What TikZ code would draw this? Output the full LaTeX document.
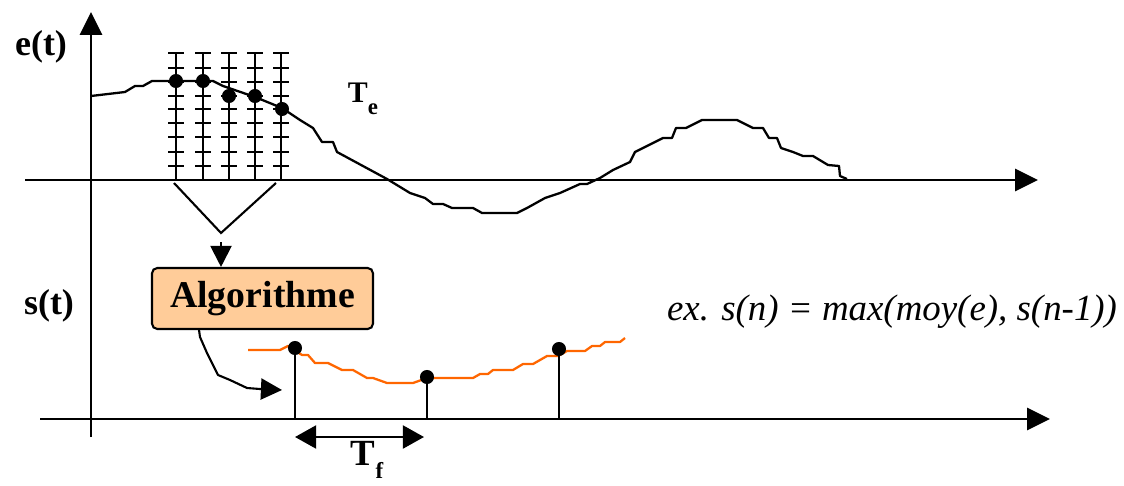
\documentclass[tikz,border=0pt]{standalone}
\usepackage{fontspec}
\setmainfont{Liberation Serif}
\usetikzlibrary{arrows.meta,positioning}
\definecolor{peach}{RGB}{255,204,153}
\definecolor{sigorange}{RGB}{255,102,0}

\begin{document}
\begin{tikzpicture}[
    x=0.02cm, y=-0.02cm,
    axis/.style={line width=1.5pt, -{Triangle[length=13pt,width=12.5pt]}},
    curve/.style={line width=1.3pt, line join=round},
    sample/.style={circle, fill=black, inner sep=0pt, minimum size=8pt},
    algobox/.style={rectangle, rounded corners=3pt, draw=black, line width=1.2pt, fill=peach, minimum width=4.42cm, minimum height=1.22cm, font=\fontsize{21.5}{24}\selectfont\bfseries},
    axlabel/.style={font=\fontsize{20.5}{24}\selectfont\bfseries, inner sep=0pt}
]
    \useasboundingbox (0,0) rectangle (1124,486);

    % Axes
    \coordinate (o1) at (91,437);
    \coordinate (y1) at (91,12);
    \coordinate (e0) at (25,180);
    \coordinate (e1) at (1038,180);
    \coordinate (s0) at (40,419);
    \coordinate (s1) at (1050,419);
    \draw[axis] (o1) -- (y1);
    \draw[axis] (e0) -- (e1);
    \draw[axis] (s0) -- (s1);

    % Labels
    \node[axlabel] (et) at (41,47) {e(t)};
    \node[axlabel] (st) at (49,306) {s(t)};
    \node[axlabel, font=\fontsize{17}{20}\selectfont\bfseries] (te) at (363,99) {T\raisebox{-0.4em}{\fontsize{13}{14}\selectfont e}};
    \node[axlabel, font=\fontsize{21}{24}\selectfont\bfseries] (tf) at (367,460) {T\raisebox{-0.33em}{\fontsize{13}{14}\selectfont f}};
    \node[font=\fontsize{21}{24}\selectfont\itshape, inner sep=0pt] (ex) at (892,312) {ex. s(n) = max(moy(e), s(n-1))};

    % Input signal e(t)
    \draw[curve] (91,96) -- (125,92) -- (135,86) -- (143,86) -- (152,81) -- (213,81) -- (223,86)
        -- (255,97) -- (282,108) -- (300,120) -- (313,128) -- (322,142) -- (333,142) -- (337,152)
        -- (387,179) -- (410,193) -- (425,198) -- (433,204) -- (443,204) -- (452,208) -- (473,208)
        -- (482,213) -- (517,213) -- (527,208) -- (545,198) -- (560,193) -- (580,184) -- (587,184)
        -- (600,178) -- (613,170) -- (630,162) -- (635,152) -- (643,148) -- (655,142) -- (663,138)
        -- (672,138) -- (676,128) -- (686,128) -- (702,120) -- (737,120) -- (753,128) -- (763,128)
        -- (769,138) -- (777,138) -- (781,148) -- (793,152) -- (803,156) -- (813,156) -- (828,165)
        -- (839,166) -- (840,176) -- (847,179);

    % Sampling grid
    \foreach \x in {176,203,229,255,281} {
        \draw[line width=1.3pt] (\x,53) -- (\x,180);
        \foreach \y in {53,68,82,96,109,123,137,152,166}
            \draw[line width=1.3pt] (\x-8,\y) -- (\x+8,\y);
    }

    % Samples
    \node[sample] (p1) at (176,81) {};
    \node[sample] (p2) at (203,81) {};
    \node[sample] (p3) at (229,96) {};
    \node[sample] (p4) at (255,96) {};
    \node[sample] (p5) at (282,109) {};

    % Algorithm block
    \node[algobox] (algo) at (262.5,298.5) {Algorithme};
    \coordinate (va) at (174,183);
    \coordinate (vb) at (276,183);
    \coordinate (vc) at (221,233);
    \coordinate (vd) at (221,242);
    \draw[line width=1.2pt] (va) -- (vc) -- (vb);
    \draw[line width=1.2pt, -{Triangle[length=12pt,width=12pt]}] (vd) -- (algo.north -| vd);
    \coordinate (out) at (282,390);
    \draw[line width=1.2pt, line join=round, -{Triangle[length=12pt,width=12pt]}]
        ([xshift=-1.27cm]algo.south) -- (200,337) -- (207,353) -- (218,375) -- (230,380)
        -- (247,388) -- (260,389) -- (out);

    % Output signal s(t)
    \draw[curve, sigorange] (248,350) -- (280,350) -- (288,346) -- (302,355) -- (308,355) -- (315,363)
        -- (328,363) -- (342,370) -- (353,370) -- (367,378) -- (373,378) -- (387,383) -- (413,383)
        -- (427,378) -- (473,378) -- (480,374) -- (488,374) -- (493,370) -- (513,370) -- (523,364)
        -- (533,364) -- (547,356) -- (558,356) -- (567,351) -- (585,351) -- (592,346) -- (600,346)
        -- (605,342) -- (620,342) -- (625,338);
    \node[sample] (q1) at (295,348) {};
    \node[sample] (q2) at (427,377) {};
    \node[sample] (q3) at (559,349) {};
    \foreach \q in {q1,q2,q3}
        \draw[line width=1.2pt] (\q.center) -- (\q.center |- s0);

    % Period T_f
    \coordinate (tfl) at (295,437);
    \coordinate (tfr) at (424,437);
    \draw[line width=1.5pt, {Triangle[length=12pt,width=13pt]}-{Triangle[length=12pt,width=13pt]}] (tfl) -- (tfr);

\end{tikzpicture}
\end{document}
